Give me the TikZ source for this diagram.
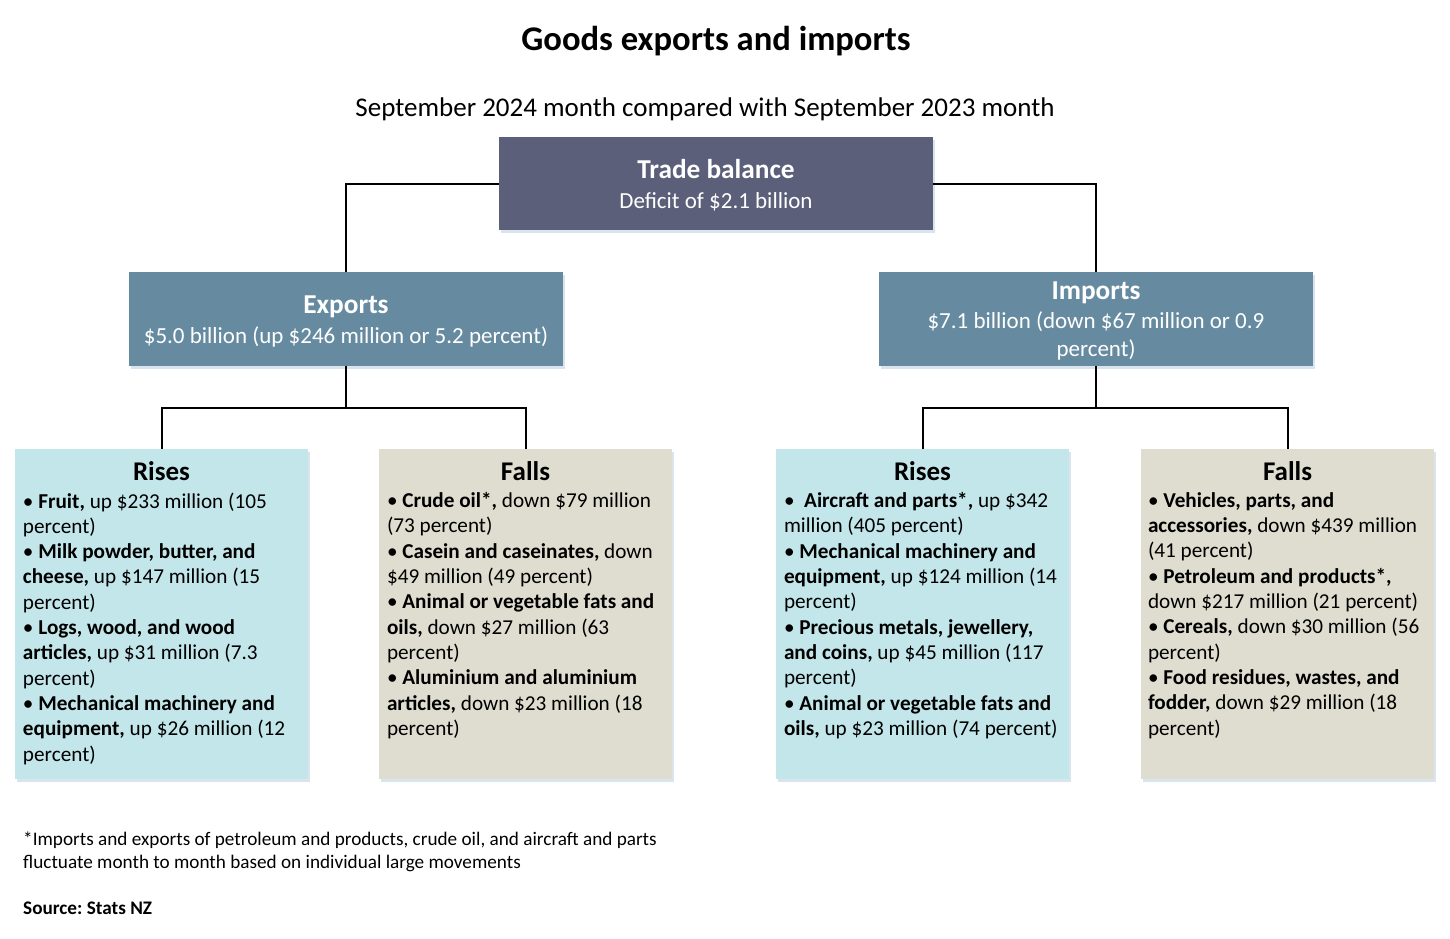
\documentclass[tikz,border=0pt]{standalone}
\usepackage{fontspec}
\setmainfont{Carlito}
\usepackage{xcolor}
\usepackage{tikz}
\usetikzlibrary{positioning, calc, shadows}
\definecolor{balance}{HTML}{5B5F79}
\definecolor{flow}{HTML}{668BA0}
\definecolor{riselight}{HTML}{C2E6EA}
\definecolor{falllight}{HTML}{DEDDD0}
\definecolor{shadowblue}{HTML}{C9D8E8}
\tikzset{
  boxshadow/.style = {drop shadow={shadow xshift=1.5pt, shadow yshift=-2.5pt,
                      fill=shadowblue, opacity=0.7}},
  balbox/.style  = {rectangle, fill=balance, boxshadow,
                    minimum width=434pt, minimum height=93pt, inner sep=0pt},
  flowbox/.style = {rectangle, fill=flow, boxshadow,
                    minimum width=434pt, minimum height=94pt, inner sep=0pt},
  boxtext/.style = {text=white, inner sep=0pt, align=center,
                    font=\fontsize{23}{29.5}\selectfont},
  risebox/.style = {rectangle, fill=riselight, boxshadow,
                    minimum width=293pt, minimum height=330pt, inner sep=0pt},
  fallbox/.style = {rectangle, fill=falllight, boxshadow,
                    minimum width=293pt, minimum height=330pt, inner sep=0pt},
  boxhead/.style = {anchor=base, inner sep=0pt, font=\fontsize{27}{30}\selectfont\bfseries},
  boxbody/.style = {anchor=north west, inner sep=0pt, align=left,
                    font=\fontsize{21.2}{25.3}\selectfont},
  note/.style    = {anchor=base west, inner sep=0pt, align=left,
                    font=\frenchspacing\fontsize{19.2}{23}\selectfont},
  link/.style    = {draw=black, line width=2pt},
}
\newcommand{\hd}[1]{{\fontsize{27.3}{29.5}\selectfont\bfseries #1}}

\begin{document}
\begin{tikzpicture}[x=1pt, y=-1pt]
  \useasboundingbox (0,0) rectangle (1450,939);

  % Titles
  \node[anchor=base, inner sep=0pt, font=\fontsize{34.6}{40}\selectfont\bfseries]
       (title) at (716,51) {Goods exports and imports};
  \node[anchor=base, inner sep=0pt, font=\fontsize{27}{32}\selectfont]
       (subtitle) at (705,117) {September 2024 month compared with September 2023 month};

  % Level 1 and 2
  \node[balbox] (tb) at (716,183.5) {};
  \node[boxtext] (tbt) at ($(tb.center)+(0,1.5)$) {\hd{Trade balance}\\Deficit of \$2.1 billion};
  \node[flowbox] (ex) at (346,319) {};
  \node[boxtext] (ext) at ($(ex.center)+(0,2.5)$)
       {\hd{Exports}\\\$5.0 billion (up \$246 million or 5.2 percent)};
  \node[flowbox] (im) at (1096,319) {};
  \node[boxtext, font=\fontsize{23}{28.6}\selectfont] (imt) at ($(im.center)+(0,2)$)
       {\hd{Imports}\\\$7.1 billion (down \$67 million or 0.9\\percent)};
  \draw[link] (tb.west) -| (ex.north);
  \draw[link] (tb.east) -| (im.north);

  % Export movements
  \node[risebox] (exr) at (161.5,614) {};
  \node[fallbox] (exf) at (525.5,614) {};
  \coordinate (exbr) at ($(ex.south)+(0,42)$);
  \draw[link] (ex.south) -- (exbr) -| (exr.north);
  \draw[link] (exbr) -| (exf.north);
  \node[boxhead] (exrh) at ($(exr.north)+(0,32)$) {Rises};
  \node[boxhead] (exfh) at ($(exf.north)+(0,32)$) {Falls};
  \node[boxbody] (exrt) at ($(exr.north west)+(8,43.5)$)
       {\textbullet\ \textbf{Fruit,} up \$233 million (105\\
        percent)\\
        \textbullet\ \textbf{Milk powder, butter, and}\\
        \textbf{cheese,} up \$147 million (15\\
        percent)\\
        \textbullet\ \textbf{Logs, wood, and wood}\\
        \textbf{articles,} up \$31 million (7.3\\
        percent)\\
        \textbullet\ \textbf{Mechanical machinery and}\\
        \textbf{equipment,} up \$26 million (12\\
        percent)};
  \node[boxbody] (exft) at ($(exf.north west)+(8,43.5)$)
       {\textbullet\ \textbf{Crude oil*,} down \$79 million\\
        (73 percent)\\
        \textbullet\ \textbf{Casein and caseinates,} down\\
        \$49 million (49 percent)\\
        \textbullet\ \textbf{Animal or vegetable fats and}\\
        \textbf{oils,} down \$27 million (63\\
        percent)\\
        \textbullet\ \textbf{Aluminium and aluminium}\\
        \textbf{articles,} down \$23 million (18\\
        percent)};

  % Import movements
  \node[risebox] (imr) at (922.5,614) {};
  \node[fallbox] (imf) at (1287.5,614) {};
  \coordinate (imbr) at ($(im.south)+(0,42)$);
  \draw[link] (im.south) -- (imbr) -| (imr.north);
  \draw[link] (imbr) -| (imf.north);
  \node[boxhead] (imrh) at ($(imr.north)+(0,32)$) {Rises};
  \node[boxhead] (imfh) at ($(imf.north)+(0,32)$) {Falls};
  \node[boxbody] (imrt) at ($(imr.north west)+(8,43.5)$)
       {\textbullet\ \ \textbf{Aircraft and parts*,} up \$342\\
        million (405 percent)\\
        \textbullet\ \textbf{Mechanical machinery and}\\
        \textbf{equipment,} up \$124 million (14\\
        percent)\\
        \textbullet\ \textbf{Precious metals, jewellery,}\\
        \textbf{and coins,} up \$45 million (117\\
        percent)\\
        \textbullet\ \textbf{Animal or vegetable fats and}\\
        \textbf{oils,} up \$23 million (74 percent)};
  \node[boxbody] (imft) at ($(imf.north west)+(7,43.5)$)
       {\textbullet\ \textbf{Vehicles, parts, and}\\
        \textbf{accessories,} down \$439 million\\
        (41 percent)\\
        \textbullet\ \textbf{Petroleum and products*,}\\
        down \$217 million (21 percent)\\
        \textbullet\ \textbf{Cereals,} down \$30 million (56\\
        percent)\\
        \textbullet\ \textbf{Food residues, wastes, and}\\
        \textbf{fodder,} down \$29 million (18\\
        percent)};

  % Notes
  \node[note] (foot) at (23,868)
       {*Imports and exports of petroleum and products, crude oil, and aircraft and parts\\
        fluctuate month to month based on individual large movements};
  \node[note, font=\frenchspacing\fontsize{19.2}{23}\selectfont\bfseries] (source) at (23,914) {Source: Stats NZ};

\end{tikzpicture}
\end{document}
